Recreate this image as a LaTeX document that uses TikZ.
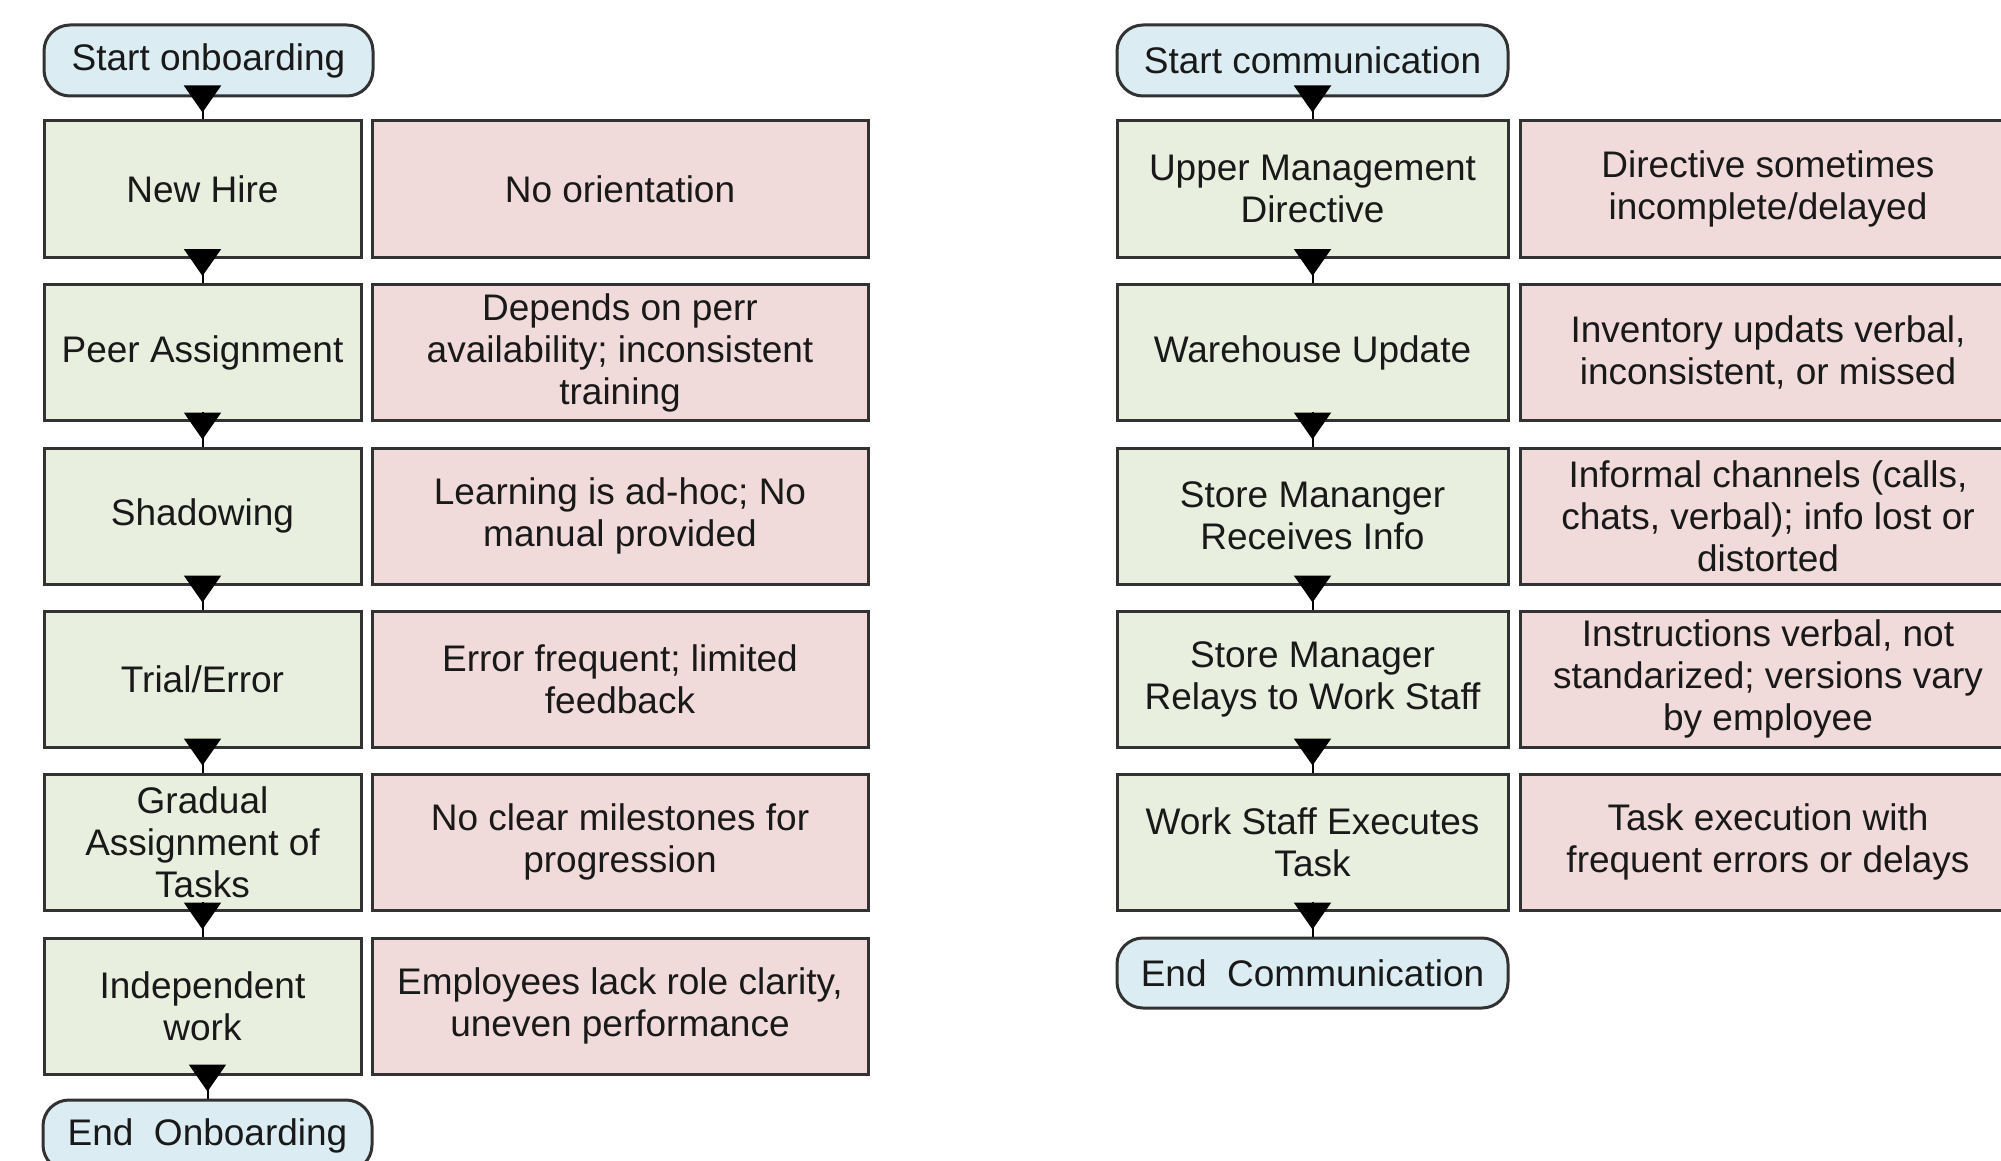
\documentclass[tikz,border=0pt]{standalone}
\usepackage{fontspec}
\setmainfont{Liberation Sans}
\usetikzlibrary{arrows.meta,calc}
\definecolor{stepgreen}{RGB}{233,239,223}
\definecolor{issuepink}{RGB}{240,219,218}
\definecolor{termblue}{RGB}{219,236,242}
\definecolor{edgegray}{RGB}{50,50,50}
\begin{document}
\begin{tikzpicture}[x=0.5pt,y=-0.5pt,
  base/.style={draw=edgegray, line width=1.5pt, align=center, inner sep=0pt,
    font=\fontsize{18.5pt}{21pt}\selectfont, text=black!90},
  stepbox/.style={base, fill=stepgreen, minimum height=68pt},
  leftstep/.style={stepbox, minimum width=158.5pt},
  rightstep/.style={stepbox, minimum width=195.5pt},
  issuebox/.style={base, fill=issuepink, minimum height=68pt, minimum width=248pt},
  term/.style={base, fill=termblue, rounded corners=13pt, minimum height=35.5pt},
  stem/.style={line width=1pt, draw=black},
  head/.style={draw=black, line width=1pt, -{Triangle[length=13.5pt,width=18.5pt]}}
]
\useasboundingbox (0,0) rectangle (2001,1161);
\clip (0,0) rectangle (2001,1161);
\newcommand\flowlink[2]{%
  \draw[stem] (#1) -- (#2);
  \draw[head] ($(#1)+(0,-10)$) -- ($(#2)+(0,-7)$);}

% ---------- left: onboarding ----------
\node[term, minimum width=164.5pt] (sa) at (208.5,60.5) {Start onboarding};
\node[leftstep] (a1) at (202.5,189)   {New Hire};
\node[leftstep] (a2) at (202.5,352.5) {Peer Assignment};
\node[leftstep] (a3) at (202.5,516)   {Shadowing};
\node[leftstep] (a4) at (202.5,679)   {Trial/Error};
\node[leftstep] (a5) at (202.5,842)   {Gradual\\Assignment of\\Tasks};
\node[leftstep] (a6) at (202.5,1006)  {Independent\\work};
\node[term, minimum width=164.5pt] (ea) at (207.5,1135.5) {End\ \ Onboarding};

\node[issuebox] (p1) at (620,189)   {No orientation};
\node[issuebox] (p2) at (620,352.5) {Depends on perr\\availability; inconsistent\\training};
\node[issuebox] (p3) at (620,516)   {Learning is ad-hoc; No\\manual provided};
\node[issuebox] (p4) at (620,679)   {Error frequent; limited\\feedback};
\node[issuebox] (p5) at (620,842)   {No clear milestones for\\progression};
\node[issuebox] (p6) at (620,1006)  {Employees lack role clarity,\\uneven performance};

\flowlink{a1.north |- sa.south}{a1.north}
\flowlink{a1.south}{a2.north}
\flowlink{a2.south}{a3.north}
\flowlink{a3.south}{a4.north}
\flowlink{a4.south}{a5.north}
\flowlink{a5.south}{a6.north}
\flowlink{ea.north |- a6.south}{ea.north}

% ---------- right: communication ----------
\node[term, minimum width=195.5pt] (sb) at (1312.5,60.5) {Start communication};
\node[rightstep] (b1) at (1312.5,189)   {Upper Management\\Directive};
\node[rightstep] (b2) at (1312.5,352.5) {Warehouse Update};
\node[rightstep] (b3) at (1312.5,516)   {Store Mananger\\Receives Info};
\node[rightstep] (b4) at (1312.5,679)   {Store Manager\\Relays to Work Staff};
\node[rightstep] (b5) at (1312.5,842)   {Work Staff Executes\\Task};
\node[term, minimum width=195.5pt, minimum height=35pt] (eb) at (1312.5,973) {End\ \ Communication};

\node[issuebox] (q1) at (1768,189)   {Directive sometimes\\incomplete/delayed};
\node[issuebox] (q2) at (1768,352.5) {Inventory updats verbal,\\inconsistent, or missed};
\node[issuebox] (q3) at (1768,516)   {Informal channels (calls,\\chats, verbal); info lost or\\distorted};
\node[issuebox] (q4) at (1768,679)   {Instructions verbal, not\\standarized; versions vary\\by employee};
\node[issuebox] (q5) at (1768,842)   {Task execution with\\frequent errors or delays};

\flowlink{b1.north |- sb.south}{b1.north}
\flowlink{b1.south}{b2.north}
\flowlink{b2.south}{b3.north}
\flowlink{b3.south}{b4.north}
\flowlink{b4.south}{b5.north}
\flowlink{eb.north |- b5.south}{eb.north}
\end{tikzpicture}
\end{document}
